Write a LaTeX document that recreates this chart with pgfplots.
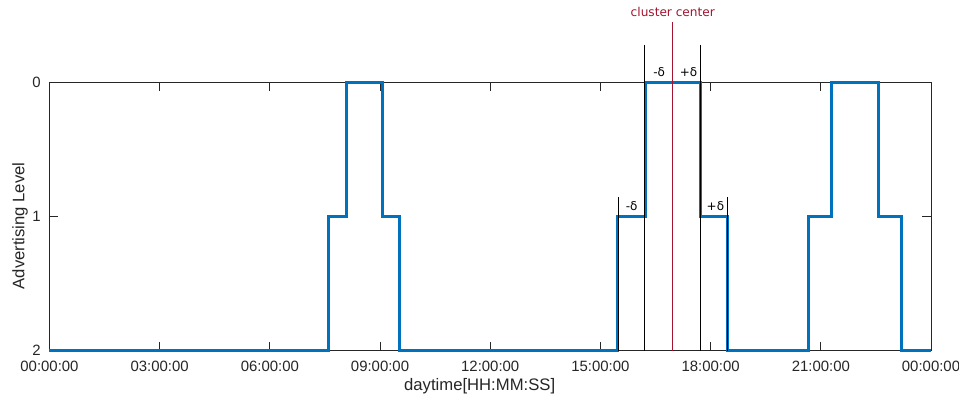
\documentclass[border=0pt]{standalone}
\usepackage{pgfplots}
\pgfplotsset{compat=1.18}
\usepackage{fontspec}
\setmainfont{Liberation Sans}
\newfontfamily\dejavu{DejaVu Sans}
\definecolor{mblue}{RGB}{0,114,189}
\definecolor{mred}{RGB}{162,20,47}
\definecolor{axgray}{RGB}{38,38,38}
\begin{document}
\begin{tikzpicture}
\begin{axis}[
  scale only axis, width=661.1pt, height=201.3pt,
  xmin=0, xmax=24, ymin=0, ymax=2, y dir=reverse,
  xtick={0,3,6,9,12,15,18,21,24},
  xticklabels={00:00:00,03:00:00,06:00:00,09:00:00,12:00:00,15:00:00,18:00:00,21:00:00,00:00:00},
  ytick={0,1,2}, yticklabels={0,1,2},
  tick align=inside, major tick length=6.6pt,
  axis line style={axgray, line width=0.6pt},
  tick style={axgray, line width=0.6pt},
  ticklabel style={font=\fontsize{11.2}{13}\selectfont, text=axgray},
  xlabel={daytime[HH:MM:SS]}, ylabel={Advertising Level},
  every axis x label/.style={at={(axis description cs:0.488,-0.134)}, anchor=center, font=\fontsize{12.5}{15}\selectfont, text=axgray},
  every axis y label/.style={at={(axis description cs:-0.0333,0.465)}, rotate=90, anchor=center, font=\fontsize{12.5}{15}\selectfont, text=axgray},
  xticklabel style={yshift=-4pt},
  yticklabel style={xshift=-3pt},
  clip=false,
]
\addplot[const plot, mblue, line width=2.4pt] coordinates {
  (0,2) (7.59,1) (8.08,0) (9.06,1) (9.54,2)
  (15.46,1) (16.22,0) (17.72,1) (18.46,2)
  (20.67,1) (21.30,0) (22.56,1) (23.20,2) (24,2)
};
% delta markers
\addplot[black, line width=0.75pt] coordinates {(15.50,0.857) (15.50,2)};
\addplot[black, line width=0.75pt] coordinates {(18.46,0.857) (18.46,2)};
\addplot[black, line width=0.75pt] coordinates {(16.21,-0.278) (16.21,2)};
\addplot[black, line width=0.75pt] coordinates {(17.73,-0.278) (17.73,2)};
% cluster center
\addplot[mred, line width=0.8pt] coordinates {(16.95,-0.45) (16.95,2)};
\node[text=mred, font=\dejavu\fontsize{9.1}{11}\selectfont] at (axis cs:16.97,-0.524) {cluster center};
\node[font=\dejavu\fontsize{9}{11}\selectfont] at (axis cs:16.60,-0.079) {-δ};
\node[font=\dejavu\fontsize{9}{11}\selectfont] at (axis cs:17.40,-0.079) {+δ};
\node[font=\dejavu\fontsize{9}{11}\selectfont] at (axis cs:15.85,0.922) {-δ};
\node[font=\dejavu\fontsize{9}{11}\selectfont] at (axis cs:18.13,0.922) {+δ};
\end{axis}
\pgfresetboundingbox
\path ([shift={(-37.1pt,-39.2pt)}]current axis.south west) rectangle ([shift={(21pt,61.7pt)}]current axis.north east);
\end{tikzpicture}
\end{document}
